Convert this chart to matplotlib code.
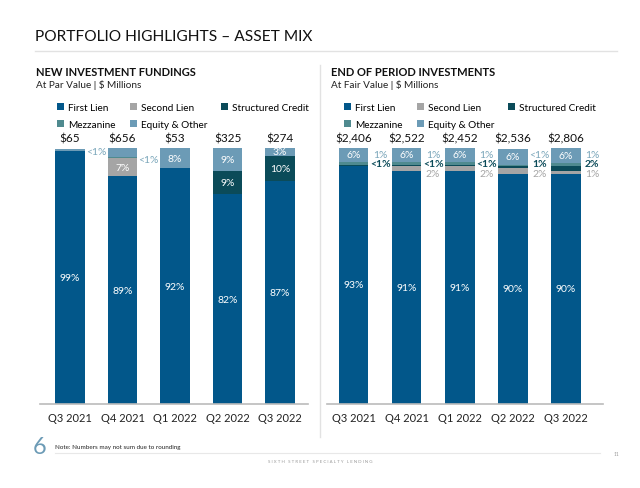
import matplotlib
matplotlib.use("Agg")
import matplotlib.pyplot as plt
from matplotlib.patches import Patch
from matplotlib.lines import Line2D

plt.rcParams['font.family'] = ['Lato', 'DejaVu Sans']

# Datos
categorias = ['Q3 2021', 'Q4 2021', 'Q1 2022', 'Q2 2022', 'Q3 2022']
series = ['First Lien', 'Second Lien', 'Structured Credit', 'Mezzanine', 'Equity & Other']
colores = ['#02578A', '#A5A5A5', '#0B4B59', '#4F8A8F', '#6C9BB6']
colores_txt = ['#02578A', '#A5A5A5', '#0B4B59', '#7AA6BA', '#7AA6BA']

# New investment fundings (%)
nif_first = [99, 89, 92, 82, 87]
nif_second = [0, 7, 0, 0, 0]
nif_struct = [0, 0, 0, 9, 10]
nif_mezz = [0, 0.5, 0, 0, 0]
nif_equity = [0.7, 3.5, 8, 9, 3]
nif_totales = ['$65', '$656', '$53', '$325', '$274']
nif_dentro = [['99%', '89%', '92%', '82%', '87%'],
              [None, '7%', None, None, None],
              [None, None, None, '9%', '10%'],
              [None, None, None, None, None],
              [None, None, '8%', '9%', '3%']]
nif_fuera = {4: ['<1%', None, None, None, None], 3: [None, '<1%', None, None, None]}

# End of period investments (%)
eop_first = [93, 91, 91, 90, 90]
eop_second = [0, 2, 2, 2, 1]
eop_struct = [0.4, 0.5, 0.5, 1, 2]
eop_mezz = [1, 1, 1, 0.5, 1]
eop_equity = [6, 6, 6, 6, 6]
eop_totales = ['$2,406', '$2,522', '$2,452', '$2,536', '$2,806']
eop_dentro = [['93%', '91%', '91%', '90%', '90%'],
              [None] * 5, [None] * 5, [None] * 5,
              ['6%', '6%', '6%', '6%', '6%']]
eop_fuera = {3: ['1%', '1%', '1%', '<1%', '1%'],
             2: ['<1%', '<1%', '<1%', '1%', '2%'],
             1: [None, '2%', '2%', '2%', '1%']}


def dibujar(ax, datos, dentro, totales, fuera, xlim, apilar):
    x = list(range(len(categorias)))
    base = [0] * len(categorias)
    bases = []
    for s, valores in enumerate(datos):
        bases.append(list(base))
        ax.bar(x, valores, bottom=base, width=0.56, color=colores[s], linewidth=0)
        for i, v in enumerate(valores):
            if dentro[s][i]:
                ax.text(i, base[i] + v / 2, dentro[s][i], ha='center', va='center',
                        color='white', fontsize=7.5)
        base = [b + v for b, v in zip(base, valores)]
    for i, t in enumerate(totales):
        ax.text(i, 101.6, t, ha='center', va='bottom', fontsize=8.5, color='#111111')
    # etiquetas pequenas a la derecha de las barras
    for i in x:
        y = 97.6
        for s in sorted(fuera.keys(), reverse=True):
            t = fuera[s][i]
            if t is None:
                continue
            if not apilar:
                y = bases[s][i] + datos[s][i] / 2 - 0.8
            ax.text(i + 0.5, y, t, ha='center', va='center', fontsize=7.5,
                    color=colores_txt[s], fontweight='bold' if s == 2 else 'normal')
            y -= 3.7
    ax.set_ylim(0, 100)
    ax.set_xlim(*xlim)
    ax.set_xticks(x)
    ax.set_xticklabels(categorias, fontsize=8, color='#222222')
    ax.tick_params(axis='x', length=0, pad=6)
    ax.set_yticks([])
    for lado in ['top', 'right', 'left']:
        ax.spines[lado].set_visible(False)
    ax.spines['bottom'].set_color('#BBBBBB')
    ax.spines['bottom'].set_linewidth(1.2)
    manijas = [Patch(facecolor=c, edgecolor='none') for c in colores]
    orden = [0, 3, 1, 4, 2]
    ax.legend([manijas[k] for k in orden], [series[k] for k in orden], ncol=3,
              loc='lower left', bbox_to_anchor=(0.045, 1.055),
              frameon=False, fontsize=7.2, handlelength=0.7, handleheight=0.7,
              handletextpad=0.4, columnspacing=1.4, labelspacing=0.8, borderpad=0)


fig = plt.figure(figsize=(6.4, 4.89), dpi=100)
W, H = 640, 489

ax1 = fig.add_axes([40 / W, 1 - 405 / H, 268 / W, 256 / H])
dibujar(ax1, [nif_first, nif_second, nif_struct, nif_mezz, nif_equity], nif_dentro,
        nif_totales, nif_fuera, (-0.57, 4.53), False)

ax2 = fig.add_axes([327 / W, 1 - 405 / H, 276 / W, 256 / H])
dibujar(ax2, [eop_first, eop_second, eop_struct, eop_mezz, eop_equity], eop_dentro,
        eop_totales, eop_fuera, (-0.5, 4.7), True)

# Titulos y encabezados
fig.text(35 / W, 1 - 37 / H, 'PORTFOLIO HIGHLIGHTS – ASSET MIX', fontsize=11.2,
         color='#111111', va='center', ha='left')
fig.add_artist(Line2D([35 / W, 617 / W], [1 - 52 / H, 1 - 52 / H], color='#E2E2E2', lw=1))
fig.add_artist(Line2D([320 / W, 320 / W], [1 - 66 / H, 1 - 438 / H], color='#E2E2E2', lw=1))

fig.text(36 / W, 1 - 72 / H, 'NEW INVESTMENT FUNDINGS', fontsize=8, fontweight='bold',
         color='#111111', va='center')
fig.text(36 / W, 1 - 85 / H, 'At Par Value | $ Millions', fontsize=7.2, color='#222222', va='center')
fig.text(331 / W, 1 - 72 / H, 'END OF PERIOD INVESTMENTS', fontsize=8, fontweight='bold',
         color='#111111', va='center')
fig.text(331 / W, 1 - 85 / H, 'At Fair Value | $ Millions', fontsize=7.2, color='#222222', va='center')

# Pie de pagina
fig.text(33 / W, 1 - 448 / H, '6', fontsize=17, color='#6C9BB6', va='center')
fig.text(55 / W, 1 - 448 / H, 'Note: Numbers may not sum due to rounding', fontsize=4.5,
         color='#222222', va='center')
fig.add_artist(Line2D([55 / W, 600 / W], [1 - 454 / H, 1 - 454 / H], color='#E8E8E8', lw=0.8))
fig.text(320 / W, 1 - 462 / H, 'S I X T H   S T R E E T   S P E C I A L T Y   L E N D I N G',
         fontsize=3.2, color='#999999', ha='center', va='center')
fig.text(616 / W, 1 - 455 / H, '11', fontsize=3.5, color='#999999', ha='center', va='center')

fig.savefig('out.png', dpi=100, facecolor='white')
